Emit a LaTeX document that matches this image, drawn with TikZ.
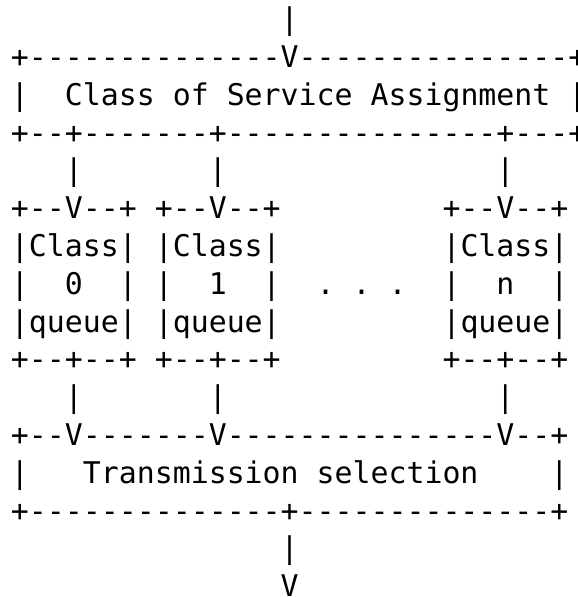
\documentclass[tikz,border=0pt]{standalone}
\usepackage{fontspec}
\setmonofont{DejaVu Sans Mono}
\begin{document}
\begin{tikzpicture}[x=0.75pt,y=-0.75pt,
  ascii/.style={anchor=base west,inner sep=0pt,outer sep=0pt,text=black,
    font=\ttfamily\fontsize{22.4pt}{28pt}\selectfont}]
% character grid: column pitch 17.98, row pitch 37.8
\newcommand\gl[4]{\node[ascii] (#1) at ({11.0+17.98*#2},{29.6+37.8*(#3-1)}) {#4};}
\fill[white] (0,0) rectangle (578,597);
\useasboundingbox (0,0) rectangle (578,597);
% incoming line
\gl{in}{15}{1}{|}
% class of service assignment box
\gl{cos-top}{0}{2}{+--------------V---------------+}
\gl{cos-l}{0}{3}{|}
\gl{cos-w1}{3}{3}{Class}
\gl{cos-w2}{9}{3}{of}
\gl{cos-w3}{12}{3}{Service}
\gl{cos-w4}{20}{3}{Assignment}
\gl{cos-r}{31}{3}{|}
\gl{cos-bot}{0}{4}{+--+-------+---------------+---+}
% links to the queues
\gl{l0}{3}{5}{|}
\gl{l1}{11}{5}{|}
\gl{ln}{27}{5}{|}
% queue boxes
\gl{q0-top}{0}{6}{+--V--+}
\gl{q1-top}{8}{6}{+--V--+}
\gl{qn-top}{24}{6}{+--V--+}
\gl{q0-a}{0}{7}{|Class|}
\gl{q1-a}{8}{7}{|Class|}
\gl{qn-a}{24}{7}{|Class|}
\gl{q0-l}{0}{8}{|}
\gl{q0-n}{3}{8}{0}
\gl{q0-r}{6}{8}{|}
\gl{q1-l}{8}{8}{|}
\gl{q1-n}{11}{8}{1}
\gl{q1-r}{14}{8}{|}
\gl{dot1}{17}{8}{.}
\gl{dot2}{19}{8}{.}
\gl{dot3}{21}{8}{.}
\gl{qn-l}{24}{8}{|}
\gl{qn-n}{27}{8}{n}
\gl{qn-r}{30}{8}{|}
\gl{q0-b}{0}{9}{|queue|}
\gl{q1-b}{8}{9}{|queue|}
\gl{qn-b}{24}{9}{|queue|}
\gl{q0-bot}{0}{10}{+--+--+}
\gl{q1-bot}{8}{10}{+--+--+}
\gl{qn-bot}{24}{10}{+--+--+}
% links to transmission selection
\gl{m0}{3}{11}{|}
\gl{m1}{11}{11}{|}
\gl{mn}{27}{11}{|}
% transmission selection box
\gl{ts-top}{0}{12}{+--V-------V---------------V--+}
\gl{ts-l}{0}{13}{|}
\gl{ts-w1}{4}{13}{Transmission}
\gl{ts-w2}{17}{13}{selection}
\gl{ts-r}{30}{13}{|}
\gl{ts-bot}{0}{14}{+--------------+--------------+}
% outgoing line
\gl{out1}{15}{15}{|}
\gl{out2}{15}{16}{V}
\end{tikzpicture}
\end{document}
